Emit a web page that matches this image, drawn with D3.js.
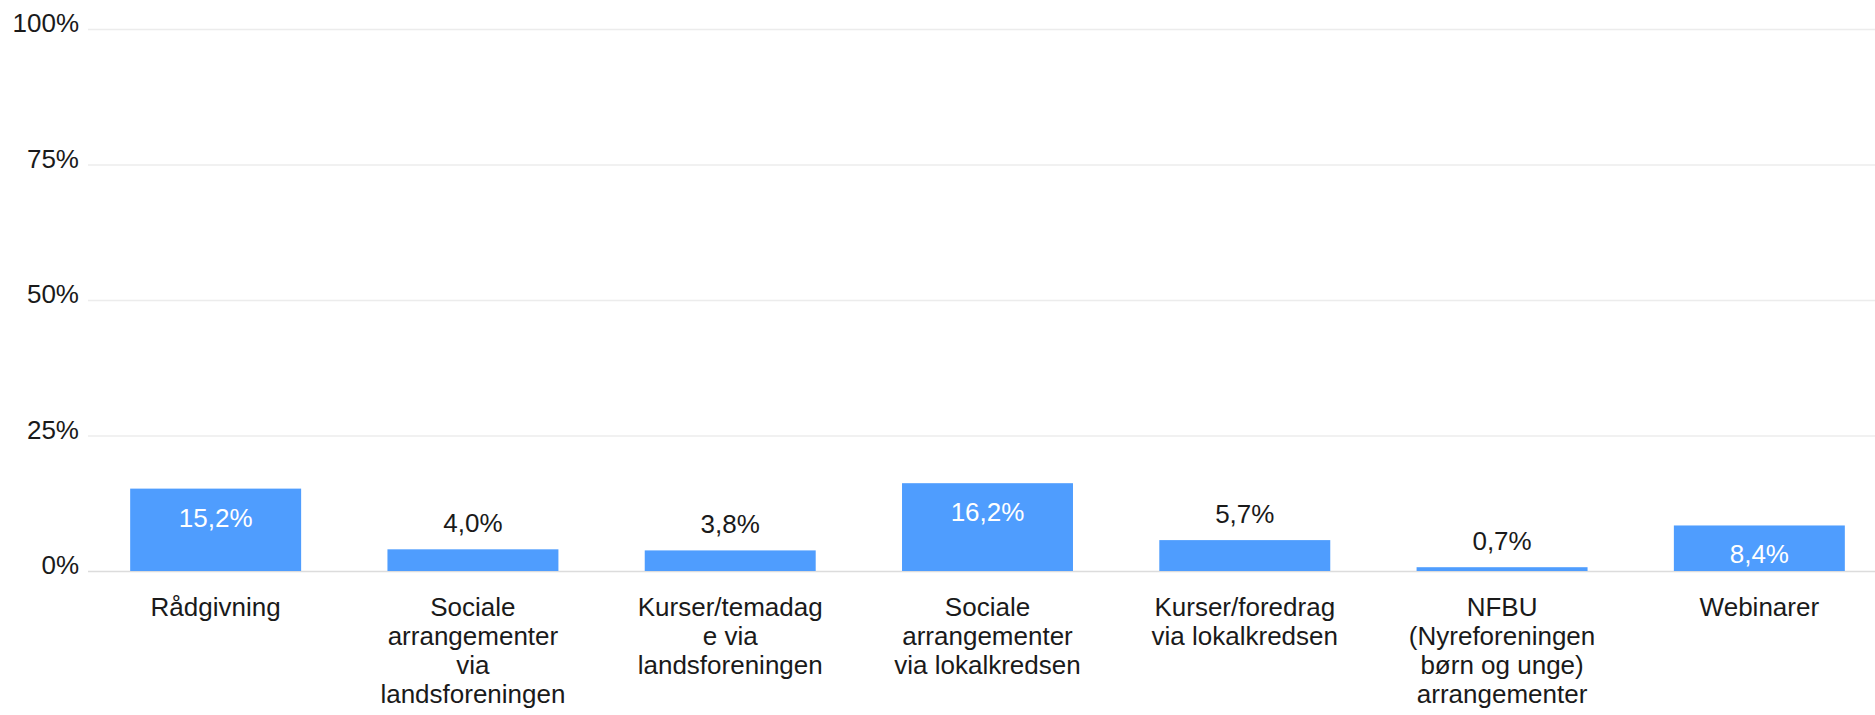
<!DOCTYPE html>
<html>
<head>
<meta charset="utf-8">
<script src="https://cdn.jsdelivr.net/npm/d3@7"></script>
<style>
  body { margin: 0; background: #fff; }
  text { font-family: Arial, "Liberation Sans", sans-serif; }
</style>
</head>
<body>
<svg id="chart" width="1875" height="715"></svg>
<script>
const categories = [
  'Rådgivning',
  'Sociale\narrangementer\nvia\nlandsforeningen',
  'Kurser/temadag\ne via\nlandsforeningen',
  'Sociale\narrangementer\nvia lokalkredsen',
  'Kurser/foredrag\nvia lokalkredsen',
  'NFBU\n(Nyreforeningen\nbørn og unge)\narrangementer',
  'Webinarer'
];
const values = [15.2, 4.0, 3.8, 16.2, 5.7, 0.7, 8.4];
const yTicks = [0, 25, 50, 75, 100];

const width = 1875;
const svg = d3.select('#chart');

const x = d3.scaleBand()
  .domain(categories)
  .range([87, 1888])
  .paddingInner(0.3355)
  .paddingOuter(0.1678);

const y = d3.scaleLinear()
  .domain([0, 100])
  .range([571, 29]);

const fmt = v => d3.format('.1f')(v).replace('.', ',') + '%';

// gridlines
svg.append('g')
  .selectAll('line')
  .data(yTicks)
  .enter()
  .append('line')
  .attr('x1', 88)
  .attr('x2', width)
  .attr('y1', d => y(d) + 0.5)
  .attr('y2', d => y(d) + 0.5)
  .attr('stroke', d => d === 0 ? '#dcdcdc' : '#ececec')
  .attr('stroke-width', 1.5);

// y labels
svg.append('g')
  .selectAll('text')
  .data(yTicks)
  .enter()
  .append('text')
  .attr('x', 79)
  .attr('y', d => y(d) + 3)
  .attr('text-anchor', 'end')
  .attr('font-size', 26)
  .attr('fill', '#1a1a1a')
  .text(d => d + '%');

// bars
svg.append('g')
  .selectAll('rect')
  .data(values)
  .enter()
  .append('rect')
  .attr('x', (d, i) => x(categories[i]))
  .attr('width', x.bandwidth())
  .attr('y', d => y(d))
  .attr('height', d => y(0) - y(d))
  .attr('fill', '#4f9dfe');

// value labels: inside (white) for tall bars, above (dark) for short ones
svg.append('g')
  .selectAll('text')
  .data(values)
  .enter()
  .append('text')
  .attr('x', (d, i) => x(categories[i]) + x.bandwidth() / 2)
  .attr('y', d => d > 8 ? y(d) + 38 : y(d) - 17)
  .attr('text-anchor', 'middle')
  .attr('font-size', 26)
  .attr('fill', d => d > 8 ? '#fff' : '#1a1a1a')
  .text(fmt);

// category labels
const cat = svg.append('g')
  .selectAll('text')
  .data(categories)
  .enter()
  .append('text')
  .attr('x', d => x(d) + x.bandwidth() / 2)
  .attr('y', 616)
  .attr('text-anchor', 'middle')
  .attr('font-size', 26)
  .attr('fill', '#1a1a1a');

cat.selectAll('tspan')
  .data(d => d.split('\n'))
  .enter()
  .append('tspan')
  .attr('x', function() { return d3.select(this.parentNode).attr('x'); })
  .attr('dy', (d, i) => i === 0 ? 0 : 29)
  .text(d => d);
</script>
</body>
</html>
